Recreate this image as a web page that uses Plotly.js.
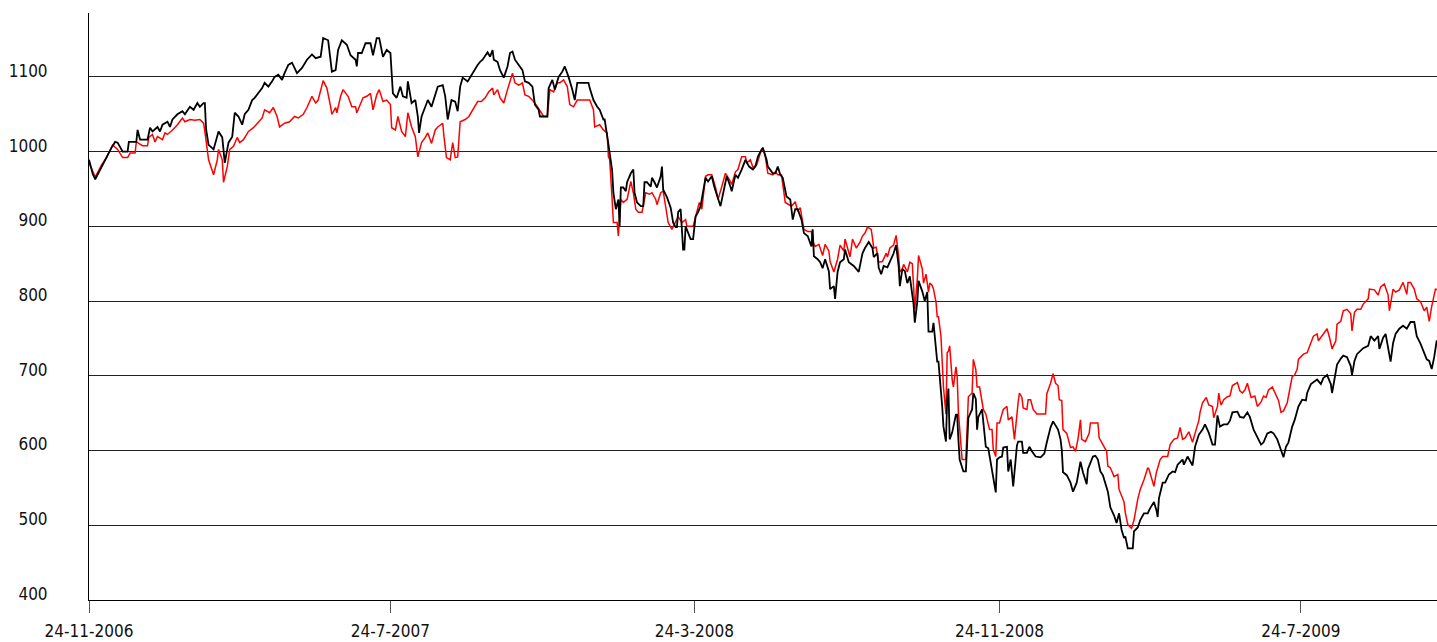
<!DOCTYPE html>
<html>
<head>
<meta charset="utf-8">
<script src="https://cdn.plot.ly/plotly-3.0.1.min.js"></script>
<style>
html,body{margin:0;padding:0;background:#fff;}
#chart{width:1437px;height:642px;}
</style>
</head>
<body>
<div id="chart"></div>
<script>
// Day offsets are days counted from the first date, 24-11-2006
var startDate = '2006-11-24';
var xTickDates = ['2006-11-24','2007-07-24','2008-03-24','2008-11-24','2009-07-24'];
var xTickLabels = ['24-11-2006','24-7-2007','24-3-2008','24-11-2008','24-7-2009'];
var yTickValues = [400,500,600,700,800,900,1000,1100];

var blackDays = [0,3,5,10,14,18,21,23,27,31,32,38,39,41,47,49,51,55,57,59,63,65,67,71,75,77,81,84,87,89,92,93,94,96,100,104,107,109,112,115,117,120,123,125,128,131,133,136,139,141,144,147,149,152,155,157,160,163,167,171,175,179,182,186,188,192,195,198,200,203,207,210,214,215,216,219,222,226,228,231,233,236,239,242,243,244,247,250,252,255,256,259,262,264,265,267,270,272,275,278,280,284,286,288,291,294,296,298,300,304,306,308,312,314,316,320,322,324,325,328,330,333,336,338,340,342,345,348,350,353,356,358,361,362,368,369,372,374,377,380,382,385,388,390,392,401,402,405,408,410,413,414,417,418,420,421,423,425,426,427,429,431,432,435,437,438,440,443,445,446,448,451,452,454,456,459,460,461,464,467,469,471,472,473,475,477,478,479,481,483,485,487,489,491,495,497,500,502,507,509,512,515,516,519,521,524,527,530,533,535,537,540,541,544,545,549,551,553,555,557,560,563,565,567,569,572,574,577,580,581,582,585,587,589,591,594,595,598,599,601,603,606,607,610,614,618,621,623,626,629,630,633,634,636,638,641,643,646,648,650,651,653,655,657,659,662,663,665,666,669,671,673,674,677,678,681,682,684,685,686,688,689,690,691,693,696,697,698,699,702,704,706,709,710,712,713,714,717,720,722,725,726,728,729,731,733,734,737,738,740,742,745,746,749,750,753,755,757,760,764,767,769,772,774,776,778,780,781,782,785,788,790,793,796,798,801,802,806,808,810,812,814,818,820,823,825,827,829,831,832,834,838,839,842,844,847,850,852,855,857,858,859,862,864,867,870,872,874,878,879,882,886,888,891,894,896,899,902,904,906,908,911,914,916,918,922,924,927,930,932,935,938,941,943,946,949,951,954,957,959,961,963,966,968,971,974,977,978,981,983,986,989,991,994,997,998,1000,1002,1005,1007,1010,1013,1014,1016,1018,1021,1023,1027,1029,1032,1035,1036,1039,1041,1043,1045,1047,1049,1052,1055,1058,1061,1064,1066,1069,1072,1074,1076,1078,1080,1082,1083];
var blackValues = [989,970,963,980,993,1005,1013,1012,1000,1000,1013,1013,1029,1016,1016,1032,1027,1033,1027,1036,1040,1033,1043,1050,1054,1050,1060,1056,1065,1060,1065,1065,1030,1009,1003,1027,1019,985,1012,1020,1052,1047,1036,1050,1056,1069,1072,1078,1085,1092,1087,1094,1100,1103,1096,1105,1116,1119,1105,1112,1123,1130,1125,1127,1152,1149,1107,1109,1136,1149,1143,1129,1123,1114,1132,1132,1145,1145,1129,1152,1152,1127,1136,1132,1107,1078,1072,1087,1074,1072,1094,1065,1069,1047,1025,1047,1060,1069,1060,1078,1087,1089,1074,1043,1069,1067,1054,1087,1099,1094,1100,1105,1116,1120,1123,1133,1127,1136,1123,1120,1109,1099,1114,1132,1134,1123,1116,1109,1094,1092,1087,1063,1056,1047,1047,1085,1096,1083,1100,1107,1114,1100,1083,1069,1092,1092,1085,1069,1060,1056,1043,1043,1010,998,975,945,923,936,900,952,952,947,959,971,976,945,932,927,927,959,959,953,965,959,952,967,980,949,939,925,905,899,899,919,923,869,869,900,891,883,883,913,919,927,965,960,967,953,927,945,967,953,947,969,965,976,989,980,976,980,993,1003,1005,989,980,971,971,980,969,965,940,936,909,923,923,909,891,887,873,896,860,856,852,844,856,840,816,820,803,839,852,856,869,852,847,839,864,871,879,871,859,864,845,836,847,845,852,864,875,847,820,843,840,824,833,796,771,799,827,813,800,812,759,759,771,719,719,685,659,632,612,669,683,615,624,648,648,615,588,572,572,644,655,677,669,628,645,655,605,603,575,567,544,588,591,592,604,605,572,588,552,607,612,612,597,597,605,599,592,591,596,611,631,639,633,628,615,601,571,567,557,545,557,585,571,555,575,592,593,588,572,567,545,524,513,503,516,494,483,485,469,469,492,497,507,516,516,523,531,520,511,536,557,557,568,572,571,581,588,581,592,580,605,621,628,635,624,608,608,647,632,635,635,640,651,652,645,644,651,645,628,617,608,611,623,625,623,615,601,591,605,611,632,641,659,668,667,677,689,691,695,689,697,701,689,677,695,715,723,727,725,713,701,720,729,734,737,740,753,747,753,736,751,756,737,719,744,756,763,767,763,772,772,753,743,729,722,720,709,725,747,745];

var redDays = [0,3,5,10,14,19,23,27,31,33,37,38,43,47,48,51,53,55,59,61,63,67,69,71,75,77,81,85,89,92,93,96,100,103,104,107,108,111,113,116,119,121,124,128,132,136,139,141,145,148,151,153,157,161,165,168,172,175,179,182,184,188,191,194,195,198,199,202,204,208,211,214,215,217,220,223,226,228,231,233,236,239,242,243,246,248,251,254,256,259,262,264,267,270,272,275,278,280,284,285,287,290,292,294,296,298,302,305,308,310,312,315,318,321,324,325,328,330,333,336,338,340,342,345,348,350,353,357,360,362,365,368,370,373,376,378,381,384,386,389,392,402,405,406,410,413,416,417,418,420,421,424,425,427,429,432,435,437,439,441,444,447,450,452,455,456,459,461,463,465,468,471,473,476,479,480,485,487,489,490,492,495,497,500,503,505,508,511,514,516,519,521,524,527,528,531,533,536,539,541,543,545,549,551,553,556,559,562,564,567,569,571,574,577,580,581,583,586,589,591,594,595,598,601,603,606,607,611,613,616,619,621,623,625,628,629,630,632,634,637,640,641,643,646,648,650,651,653,654,657,659,661,662,663,665,666,669,670,672,674,675,677,678,680,681,682,684,685,686,688,689,690,691,693,694,696,697,698,699,701,704,706,709,710,712,713,715,718,720,721,723,725,726,728,729,731,734,737,738,741,743,746,747,749,750,753,754,756,758,761,768,769,772,774,776,778,779,781,782,785,788,790,792,794,796,797,800,803,804,810,811,814,817,818,820,823,826,827,830,831,832,834,837,839,842,844,847,850,851,853,855,857,860,862,866,868,871,874,876,878,880,883,886,888,891,892,894,897,899,902,903,906,907,908,909,911,914,916,918,922,924,926,928,930,933,936,938,941,943,945,947,950,952,955,957,959,962,964,966,968,970,971,975,978,981,983,986,987,991,994,996,998,1001,1002,1005,1007,1010,1013,1014,1016,1018,1021,1023,1027,1028,1032,1035,1037,1040,1043,1044,1047,1049,1052,1055,1058,1059,1061,1064,1066,1069,1072,1074,1076,1078,1081,1083];
var redValues = [985,972,966,982,992,1009,1003,992,992,998,998,1013,1008,1008,1019,1023,1013,1020,1016,1025,1023,1029,1032,1036,1045,1040,1043,1042,1043,1038,1027,989,969,989,1003,989,959,980,1003,1007,1019,1012,1016,1027,1032,1040,1045,1056,1052,1059,1047,1033,1038,1040,1047,1045,1050,1059,1074,1065,1069,1095,1085,1060,1050,1059,1052,1074,1083,1074,1060,1060,1052,1060,1072,1074,1078,1056,1076,1083,1067,1069,1063,1032,1029,1047,1027,1020,1052,1033,1020,993,1012,1019,1025,1011,1029,1033,1038,1020,992,989,1012,992,993,1040,1043,1047,1056,1063,1067,1067,1072,1080,1085,1076,1083,1072,1065,1083,1094,1105,1092,1089,1092,1076,1074,1067,1060,1054,1047,1047,1083,1080,1092,1092,1096,1087,1063,1060,1069,1069,1056,1033,1036,1029,1025,993,990,936,905,905,887,936,932,936,960,945,923,919,919,945,943,945,936,929,945,947,927,905,896,905,913,905,909,900,900,913,927,932,923,967,969,969,952,936,953,971,963,956,973,976,993,993,985,989,979,982,998,1005,993,971,969,973,969,969,932,929,927,933,920,925,896,893,893,880,873,876,861,876,867,853,839,856,875,867,883,859,883,871,879,887,891,899,896,885,871,872,852,853,864,859,871,875,888,860,839,843,849,839,852,850,816,789,829,861,843,824,836,812,824,821,816,799,779,779,753,722,685,649,731,733,740,695,685,712,700,651,632,588,588,672,677,722,708,685,685,655,649,641,628,628,601,592,637,637,655,659,641,645,615,665,677,671,657,655,668,668,655,649,649,676,690,703,690,687,668,667,628,623,604,605,599,615,641,615,612,623,637,637,617,608,599,579,577,565,568,548,535,531,517,501,496,507,535,548,561,577,575,564,552,571,588,592,592,608,615,617,631,615,617,625,611,623,640,651,664,671,661,659,644,659,677,667,661,668,672,673,687,691,680,677,681,690,671,673,659,665,673,671,681,685,677,667,651,653,664,681,699,701,709,722,729,731,743,753,756,747,756,763,751,736,747,769,773,787,789,783,760,785,789,789,796,803,816,815,808,819,823,808,787,816,812,815,825,809,825,825,816,803,799,787,792,773,793,816,815];

function toDates(days) {
  var base = Date.UTC(2006, 10, 24);
  return days.map(function (d) {
    return new Date(base + d * 86400000).toISOString().slice(0, 10);
  });
}

// Left-aligned look for the y labels: pad shorter labels with a figure space
var yTickText = yTickValues.map(function (v) {
  return (v < 1000 ? '\u2007' : '') + v;
});

var fontFamily = '"DejaVu Sans Condensed", "Liberation Sans Narrow", sans-serif';

var traces = [
  {
    x: toDates(redDays), y: redValues, type: 'scatter', mode: 'lines',
    line: {color: '#ff0000', width: 1.5}, hoverinfo: 'skip', name: 'red'
  },
  {
    x: toDates(blackDays), y: blackValues, type: 'scatter', mode: 'lines',
    line: {color: '#000000', width: 1.8}, hoverinfo: 'skip', name: 'black'
  }
];

var layout = {
  width: 1437, height: 642,
  margin: {l: 89, r: 0, t: 13, b: 42, pad: 0},
  paper_bgcolor: '#ffffff', plot_bgcolor: '#ffffff',
  showlegend: false,
  xaxis: {
    type: 'date',
    range: [startDate, '2009-11-10 06:00'],
    tickmode: 'array', tickvals: xTickDates, ticktext: xTickLabels,
    ticks: 'outside', ticklen: 12, tickwidth: 1, tickcolor: '#555',
    ticklabelstandoff: 4,
    showgrid: false, zeroline: false,
    showline: true, linecolor: '#000', linewidth: 1,
    tickfont: {family: fontFamily, size: 17, color: '#111'}
  },
  yaxis: {
    range: [400, 1185.5],
    tickmode: 'array', tickvals: yTickValues, ticktext: yTickText,
    ticks: '', showgrid: true, gridcolor: '#222', gridwidth: 1,
    zeroline: false, showline: true, linecolor: '#000', linewidth: 1,
    ticklabelstandoff: 37, ticklabelshift: -6,
    tickfont: {family: fontFamily, size: 17, color: '#111'}
  }
};

Plotly.newPlot('chart', traces, layout, {staticPlot: true, displayModeBar: false});
</script>
</body>
</html>
